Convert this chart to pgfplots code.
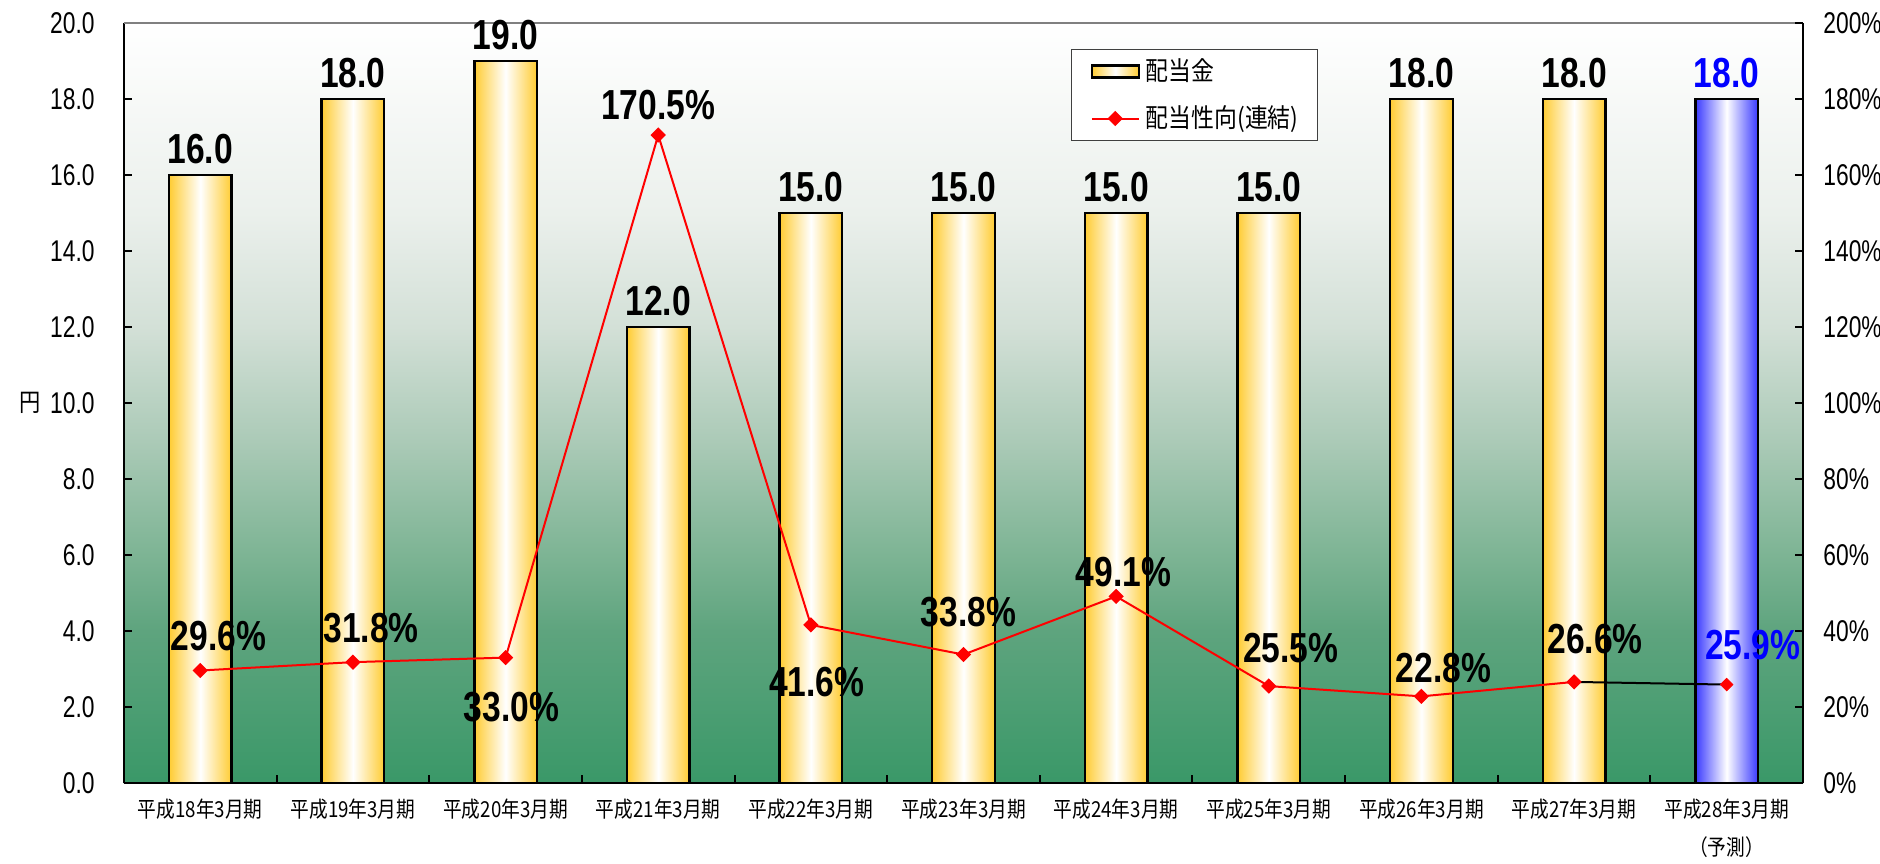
\documentclass[border=0pt]{standalone}
\usepackage{fontspec}
\usepackage{pgfplots}
\pgfplotsset{compat=1.18}
\usepackage{pgfplotstable}
\setmainfont{Liberation Sans}
\newfontfamily\tickfont{Liberation Sans}[FakeStretch=0.76]
\newfontfamily\lblfont{Liberation Sans}[FakeStretch=0.80]
\newfontfamily\cjk{Noto Sans CJK JP}[FakeStretch=0.85]
\newfontfamily\cjklg{Noto Sans CJK JP}[FakeStretch=0.88]

\definecolor{barorange}{HTML}{FFCC33}
\definecolor{barblue}{HTML}{3A3AFF}
\definecolor{g0}{HTML}{3A9868}
\definecolor{g1}{HTML}{5EA47E}
\definecolor{g2}{HTML}{7DB494}
\definecolor{g3}{HTML}{ABCAB7}
\definecolor{g4}{HTML}{D3E0D7}
\definecolor{g5}{HTML}{EBF0EC}

% plot area background: green at the bottom, white at the top
\pgfdeclareverticalshading{bgshade}{100bp}{color(0bp)=(g0); color(25bp)=(g0);
  color(35bp)=(g1); color(40bp)=(g2); color(47.5bp)=(g3); color(55bp)=(g4);
  color(62.5bp)=(g5); color(75bp)=(white); color(100bp)=(white)}

% dividend (yen)
\pgfplotstableread{
x y
0 16
1 18
2 19
3 12
4 15
5 15
6 15
7 15
8 18
9 18
}\dividend

% payout ratio (%) with label offsets in pt
\pgfplotstableread{
x y lx ly
0 29.6 9 10
1 31.8 9 10
2 33.0 3 -32
3 170.5 0 8
4 41.6 3 -36
5 33.8 2.4 14
6 49.1 3.6 5
7 25.5 11 12
8 22.8 11 7
9 26.6 10.5 14
}\payout

\tikzset{lbl/.style={font=\lblfont\bfseries\fontsize{21}{21}\selectfont,
    inner sep=0pt, anchor=base}}

\begin{document}
\begin{tikzpicture}
\pgfplotsset{
  base/.style={scale only axis, width=839.5pt, height=380pt,
    xmin=-0.5, xmax=10.5, clip=false,
    /pgf/number format/assume math mode=true,
    every tick/.style={black, line width=1pt}},
  barstyle/.style={ybar, bar width=0.41, draw=black, line width=1.2pt,
    left color=#1, right color=#1, middle color=white,
    nodes near coords={\pgfmathprintnumber[fixed,fixed zerofill,precision=1]{\pgfplotspointmeta}}},
}
\begin{axis}[base,
  ymin=0, ymax=20,
  axis x line*=bottom, axis y line*=left,
  axis line style={line width=1pt, black},
  tick align=inside, major tick length=4pt,
  axis background/.style={shade, shading=bgshade},
  ytick={0,2,...,20},
  yticklabel={\pgfmathprintnumber[fixed,fixed zerofill,precision=1]{\tick}},
  yticklabel style={font=\tickfont\fontsize{15}{15}\selectfont,
    inner sep=0pt, anchor=east, xshift=-14.5pt},
  xtick={0.5,1.5,...,9.5}, xticklabels={},
  extra x ticks={0,1,...,10},
  extra x tick labels={平成18年3月期,平成19年3月期,平成20年3月期,平成21年3月期,
    平成22年3月期,平成23年3月期,平成24年3月期,平成25年3月期,平成26年3月期,
    平成27年3月期,{平成28年3月期\\（予測）}},
  extra x tick style={major tick length=0pt},
  xticklabel style={font=\cjk\fontsize{11}{19}\selectfont, align=center,
    anchor=north, inner sep=0pt, yshift=-8pt},
  ylabel={円},
  ylabel style={rotate=-90, at={(rel axis cs:0,0.5)}, anchor=center,
    xshift=-47pt, font=\cjk\fontsize{12.5}{12.5}\selectfont},
]
\coordinate (SW) at (rel axis cs:0,0);
\coordinate (NE) at (rel axis cs:1,1);
\draw[line width=1pt, gray] (rel axis cs:0,1) -- (rel axis cs:1,1);
% one plot per bar so that each bar gets its own shading
\pgfplotsinvokeforeach{0,...,9}{
  \addplot[barstyle=barorange, restrict x to domain=#1:#1,
    every node near coord/.append style={lbl, text=black, yshift=5.5pt}]
    table[x=x, y=y] {\dividend};
}
\addplot[barstyle=barblue,
  every node near coord/.append style={lbl, text=blue, yshift=5.5pt}]
  coordinates {(10,18)};
\end{axis}

\begin{axis}[base,
  ymin=0, ymax=200,
  axis y line*=right, axis x line=none,
  axis line style={line width=1pt, black},
  tick align=inside, major tick length=4pt,
  ytick={0,20,...,200},
  yticklabel={\pgfmathprintnumber{\tick}\%},
  yticklabel style={font=\tickfont\fontsize{15}{15}\selectfont,
    inner sep=0pt, anchor=west, xshift=10pt},
  legend cell align=left,
  legend style={at={(rel axis cs:0.564,0.9658)}, anchor=north west,
    draw=black!75, line width=0.6pt, fill=white,
    font=\cjklg\fontsize{13}{13}\selectfont,
    inner xsep=9.5pt, inner ysep=4.5pt, row sep=10.5pt,
    nodes={inner sep=0pt, text height=11pt, text depth=2pt}},
]
\addlegendimage{legend image code/.code={
  \draw[line width=1.2pt, left color=barorange, right color=barorange, middle color=white]
    (0pt,-3pt) rectangle (23.5pt,3pt);
  \path (26.5pt,0pt);}}
\addlegendentry{配当金}
\addplot[black, line width=1pt, forget plot] coordinates {(9,26.6) (10,25.9)};
\addplot[red, line width=1pt, mark=square*, mark size=2.2pt,
  mark options={rotate=45, solid},
  legend image code/.code={
    \draw[red, line width=1pt] (0pt,0pt) -- (23.5pt,0pt);
    \draw[red, mark=square*, mark size=2.2pt, mark options={rotate=45}]
      plot coordinates {(11.75pt,0pt)};
    \path (26.5pt,0pt);},
  nodes near coords={\pgfmathprintnumber[fixed,fixed zerofill,precision=1]{\pgfplotspointmeta}\%},
  visualization depends on={\thisrow{lx} \as \labx},
  visualization depends on={\thisrow{ly} \as \laby},
  every node near coord/.append style={lbl, text=black, xshift=\labx pt, yshift=\laby pt}]
  table[x=x, y=y] {\payout};
\addlegendentry{配当性向(連結)}
\addplot[only marks, red, mark=square*, mark size=2.2pt,
  mark options={rotate=45}, forget plot,
  nodes near coords={\pgfmathprintnumber[fixed,fixed zerofill,precision=1]{\pgfplotspointmeta}\%},
  every node near coord/.append style={lbl, text=blue, xshift=13pt, yshift=12.5pt}]
  coordinates {(10,25.9)};
\end{axis}
\pgfresetboundingbox
\path[use as bounding box] ([xshift=-62pt,yshift=-40pt]SW) rectangle ([xshift=38.5pt,yshift=11.5pt]NE);
\end{tikzpicture}
\end{document}
